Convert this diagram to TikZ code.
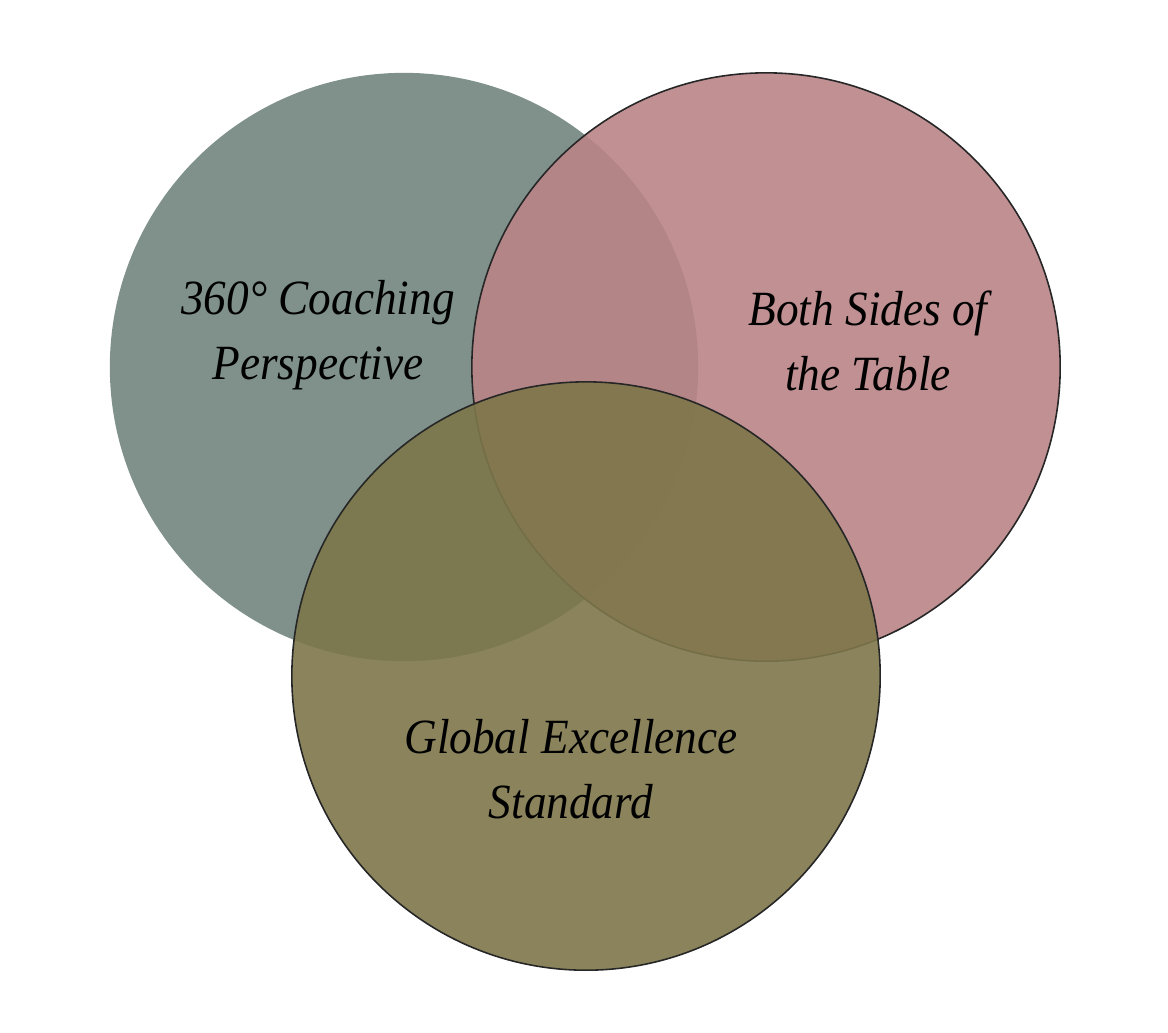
\documentclass[tikz,border=0pt]{standalone}
\usepackage{fontspec}
\newfontfamily\vennfont[FakeStretch=0.92]{Liberation Serif}
\usetikzlibrary{positioning}

\definecolor{sagegreen}{RGB}{113,133,125}
\definecolor{dustyrose}{RGB}{185,132,135}
\definecolor{mossolive}{RGB}{125,118,74}

\begin{document}
\begin{tikzpicture}[
  x=0.01cm, y=-0.01cm,
  vennset/.style={circle, minimum size=5.88cm, inner sep=0pt,
                  fill opacity=0.9},
  ringed/.style={draw=black!85, line width=0.45pt, draw opacity=1},
  venntext/.style={align=center, inner sep=0pt,
                   font=\vennfont\itshape\fontsize{14pt}{18.5pt}\selectfont}
]
  \useasboundingbox (0,0) rectangle (1168,1032);

  % the three sets
  \node[vennset, fill=sagegreen] (coach) at (404,367) {};
  \node[vennset, ringed, fill=dustyrose] (sides) at (766,367) {};
  \node[vennset, ringed, fill=mossolive] (global) at (586,676) {};

  % their names
  \node[venntext] (coachtxt) at (318,335) {360° Coaching\\Perspective};
  \node[venntext] (sidestxt) at (868,341) {Both Sides of\\the Table};
  \node[venntext] (globaltxt) at (571,769) {Global Excellence\\Standard};
\end{tikzpicture}
\end{document}
